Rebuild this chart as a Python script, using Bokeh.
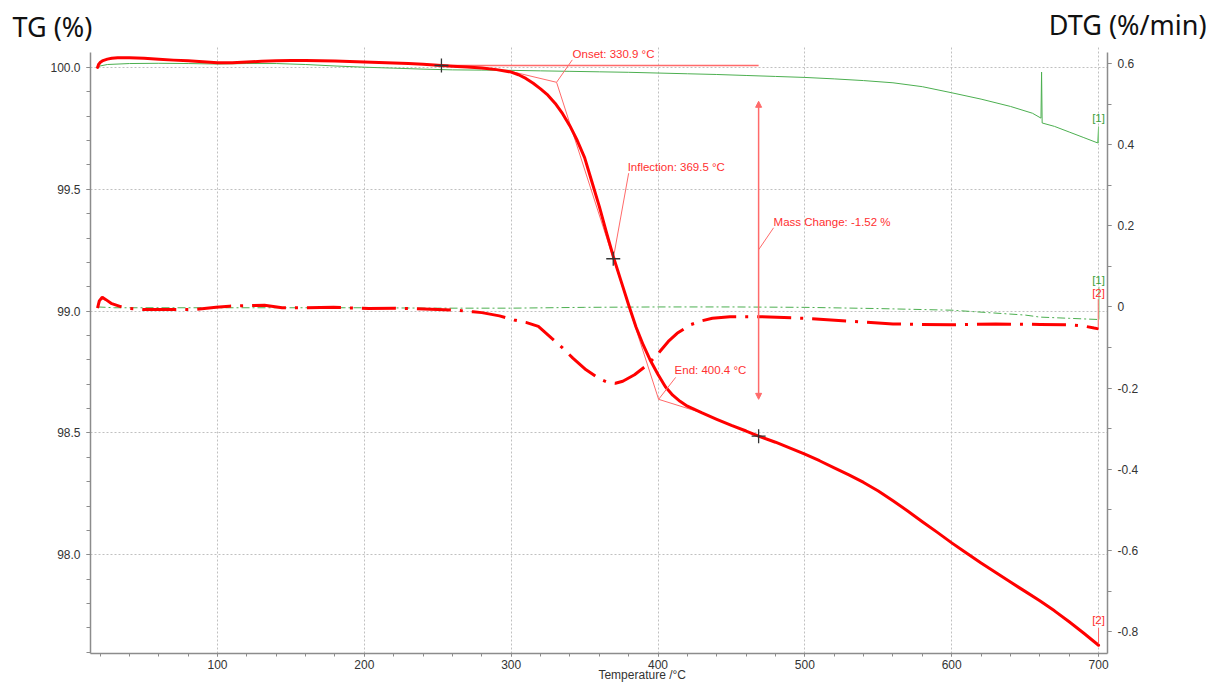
from bokeh.plotting import figure
from bokeh.layouts import column
from bokeh.models import (Range1d, LinearAxis, SingleIntervalTicker, CustomJSTickFormatter,
                          Label, Arrow, NormalHead)
from bokeh.core.properties import value
from bokeh.embed import file_html
from bokeh.resources import INLINE

# ---------------- data ----------------
# TG of sample [2] (red, %)
tg2_T = [18.3, 19, 20, 22, 25, 28, 32,
         40, 50, 60, 70, 80, 90, 100, 110, 120, 130, 140, 150, 160, 170, 180, 190, 200, 210, 220, 230, 240,
         252.5, 260, 270, 280, 290, 300,
         305, 310, 315, 320, 325, 330, 335, 340, 345, 350, 355, 360, 365, 370, 375, 380, 385, 390, 395, 400,
         405, 410, 415, 420, 430, 440, 450, 460, 468.5, 480, 490,
         500, 510, 520, 530, 540, 550, 560, 570, 580, 590, 600, 610, 620, 630, 640, 650, 660, 670, 680, 690, 700]
tg2 = [100.000, 100.012, 100.020, 100.028, 100.034, 100.038, 100.040,
       100.040, 100.038, 100.034, 100.030, 100.027, 100.023, 100.019, 100.019, 100.022, 100.025, 100.027,
       100.028, 100.028, 100.027, 100.026, 100.024, 100.022, 100.020, 100.018, 100.016, 100.013,
       100.008, 100.005, 100.002, 99.998, 99.991, 99.981,
       99.970, 99.955, 99.935, 99.912, 99.886, 99.852, 99.810, 99.760, 99.700, 99.630, 99.530, 99.430,
       99.320, 99.215, 99.120, 99.025, 98.935, 98.860, 98.795, 98.740,
       98.690, 98.655, 98.630, 98.610, 98.582, 98.556, 98.531, 98.508, 98.487, 98.462, 98.438,
       98.413, 98.386, 98.357, 98.328, 98.297, 98.262, 98.222, 98.180, 98.136, 98.093, 98.049, 98.007,
       97.966, 97.927, 97.888, 97.850, 97.811, 97.770, 97.725, 97.678, 97.629]

# TG of sample [1] (green, %)
tg1_T = [18.3, 20, 25, 40, 60, 80, 100, 120, 140, 160, 180, 200, 220, 240, 260, 280, 300, 320, 340, 360,
         380, 400, 420, 440, 460, 480, 500, 520, 540, 560, 580, 600, 620, 640, 655, 660.8, 661.2, 661.6,
         670, 680, 690, 699.5, 700]
tg1 = [100.000, 100.006, 100.012, 100.016, 100.017, 100.016, 100.014, 100.016, 100.016, 100.012, 100.006,
       100.001, 99.997, 99.993, 99.990, 99.989, 99.988, 99.986, 99.984, 99.982, 99.980, 99.977, 99.974,
       99.971, 99.967, 99.963, 99.959, 99.953, 99.946, 99.937, 99.921, 99.896, 99.870, 99.840, 99.812,
       99.792, 99.981, 99.772, 99.758, 99.735, 99.712, 99.690, 99.755]

# DTG of sample [2] (red, %/min)
dtg2_T = [18.3, 19.5, 21.5, 24, 28, 33, 37, 49, 70, 85, 99, 108, 117, 132, 144, 156, 179, 203, 221, 250,
          265, 274, 280, 292, 302, 310, 318.5, 327.5, 335, 342, 351, 360, 366, 371, 376, 384, 393, 400,
          407, 413, 422, 430, 437, 449, 470, 500, 530, 560, 600, 630, 660, 680, 690, 697, 700]
dtg2 = [-0.003, 0.015, 0.024, 0.018, 0.008, 0.002, -0.003, -0.006, -0.006, -0.006, -0.001, 0.002, 0.003,
        0.004, -0.002, -0.002, -0.001, -0.004, -0.003, -0.006, -0.009, -0.012, -0.014, -0.022, -0.032,
        -0.038, -0.048, -0.077, -0.101, -0.126, -0.155, -0.177, -0.186, -0.188, -0.183, -0.167, -0.142,
        -0.115, -0.085, -0.065, -0.044, -0.034, -0.028, -0.024, -0.024, -0.028, -0.035, -0.042, -0.044,
        -0.042, -0.043, -0.044, -0.047, -0.052, -0.054]

# DTG of sample [1] (green, %/min)
dtg1_T = [18.3, 30, 100, 200, 250, 300, 350, 400, 450, 500, 550, 600, 650, 660, 680, 700]
dtg1 = [0.000, -0.002, -0.002, -0.002, -0.003, -0.003, -0.001, 0.000, 0.000, -0.001, -0.004, -0.008,
        -0.020, -0.025, -0.028, -0.031]

# evaluation results
onset_T, onset_tg = 330.9, 99.939
infl_T, infl_tg = 369.5, 99.215
end_T, end_tg = 400.4, 98.638
step_start_T, step_start_tg = 252.5, 100.008
step_end_T, step_end_tg = 468.5, 98.487
mass_change = -1.52
cross_T = [step_start_T, infl_T, step_end_T]
cross_tg = [step_start_tg, infl_tg, step_end_tg]

titles = ["TG (%)", "DTG (%/min)"]
x_label = "Temperature /\u00b0C"

assert len(tg2_T) == len(tg2) and len(tg1_T) == len(tg1)
assert len(dtg2_T) == len(dtg2) and len(dtg1_T) == len(dtg1)

RED = "#ff0000"
ARED = "#ff3030"
LRED = "#ff6a6a"
GREEN = "#4caf50"
GTXT = "#3c9e3c"
TXT = "#333333"
AX = "#8c8c8c"
FONT = "Liberation Sans"
W = 1215

# ---------------- header strip with the two axis titles ----------------
top = figure(width=W, height=46, output_backend="svg", toolbar_location=None,
             x_range=Range1d(0, W), y_range=Range1d(0, 46),
             x_axis_location=None, y_axis_location=None, min_border=0, title=None)
if "frame_align" in top.properties():
    top.frame_align = False
top.outline_line_color = None
top.grid.visible = False
top.text(x=[12], y=[20], text=[titles[0]], text_font=value("Noto Sans"), text_font_size="27px",
         text_color="#111111", text_baseline="middle", text_align="left")
top.text(x=[1206], y=[22], text=[titles[1]], text_font=value("Noto Sans"), text_font_size="27px",
         text_color="#111111", text_baseline="middle", text_align="right")

# ---------------- main plot ----------------
p = figure(width=W, height=638, output_backend="svg", toolbar_location=None,
           x_range=Range1d(13.5, 706.1), y_range=Range1d(97.595, 100.0859),
           min_border_left=90, min_border_right=108, min_border_top=0, min_border_bottom=29)
if "frame_align" in p.properties():
    p.frame_align = False
p.outline_line_color = None
p.extra_y_ranges = {"dtg": Range1d(-0.854, 0.6418)}

xax = p.xaxis[0]
xax.ticker = SingleIntervalTicker(interval=100, num_minor_ticks=5)
# the original label starts at the middle of the axis: pad it so its text begins there
xax.axis_label = "\u2003" * 7 + "\u2009" + x_label
xax.axis_label_text_font = FONT
xax.axis_label_text_font_size = "12px"
xax.axis_label_text_font_style = "normal"
xax.axis_label_text_color = TXT
xax.axis_label_standoff = -4

yax = p.yaxis[0]
yax.ticker = SingleIntervalTicker(interval=0.5, num_minor_ticks=5)
yax.formatter = CustomJSTickFormatter(code="return tick.toFixed(1);")
yax.bounds = (97.595, 100.0613)

rax = LinearAxis(y_range_name="dtg")
rax.ticker = SingleIntervalTicker(interval=0.2, num_minor_ticks=2)
rax.formatter = CustomJSTickFormatter(
    code="const v = Math.abs(tick) < 1e-9 ? 0 : tick; return v === 0 ? '0' : v.toFixed(1);")
rax.bounds = (-0.854, 0.627)
p.add_layout(rax, "right")

for ax in [xax, yax, rax]:
    ax.axis_line_color = AX
    ax.axis_line_width = 1.5
    ax.major_tick_line_color = AX
    ax.minor_tick_line_color = AX
    ax.major_tick_in = 0
    ax.major_tick_out = 4
    ax.minor_tick_in = 0
    ax.minor_tick_out = 4
    ax.major_label_text_font = FONT
    ax.major_label_text_font_size = "12px"
    ax.major_label_text_color = TXT
xax.major_tick_out = 3
xax.minor_tick_out = 3
xax.major_label_standoff = 3
yax.major_label_standoff = 6
rax.major_label_standoff = 6

p.xgrid.ticker = xax.ticker
for g in (p.xgrid[0], p.ygrid[0]):
    g.grid_line_color = "#c0c0c0"
    g.grid_line_dash = "2 2"
    g.grid_line_width = 1

# curves
p.line(tg1_T, tg1, line_color=GREEN, line_width=1)
p.line(dtg1_T, dtg1, y_range_name="dtg", line_color=GREEN, line_width=1, line_dash="8 3 2 3")
p.line(dtg2_T, dtg2, y_range_name="dtg", line_color=RED, line_width=3, line_dash="34 9 3 9")

# evaluation construction lines
p.line([step_start_T, step_end_T], [step_start_tg, step_start_tg], line_color=LRED, line_width=1.5)
p.line([299.6, onset_T], [99.984, onset_tg], line_color=LRED, line_width=1)
p.line([onset_T, end_T], [onset_tg, end_tg], line_color=LRED, line_width=1)
p.line([end_T, 428.0], [end_tg, 98.586], line_color=LRED, line_width=1)

p.line(tg2_T, tg2, line_color=RED, line_width=3, line_cap="round", line_join="round")

# leaders
p.line([onset_T, 341.6], [onset_tg, 100.031], line_color=LRED, line_width=1)
p.line([infl_T, 380.0], [infl_tg, 99.566], line_color=LRED, line_width=1)
p.line([step_end_T, 478.7], [99.252, 99.342], line_color=LRED, line_width=1)
p.line([end_T, 412.0], [end_tg, 98.728], line_color=LRED, line_width=1)

p.add_layout(Arrow(start=NormalHead(size=6, fill_color=LRED, line_color=LRED),
                   end=NormalHead(size=6, fill_color=LRED, line_color=LRED),
                   x_start=step_end_T, y_start=98.638, x_end=step_end_T, y_end=99.861,
                   line_color=LRED, line_width=1.5))

p.scatter(cross_T, cross_tg, marker="cross", size=14, line_color="#333333", line_width=1.3)


def lab(x, y, text, color=ARED, size="11.5px", align="left", baseline="middle", yr="default"):
    p.add_layout(Label(x=x, y=y, text=text, text_color=color, text_font=FONT, text_font_size=size,
                       text_align=align, text_baseline=baseline, y_range_name=yr))


lab(341.8, 100.057, "Onset: %.1f \u00b0C" % onset_T)
lab(379.3, 99.591, "Inflection: %.1f \u00b0C" % infl_T)
lab(478.7, 99.366, "Mass Change: %.2f %%" % mass_change)
lab(411.3, 98.757, "End: %.1f \u00b0C" % end_T)

# series tags
p.line([700, 700], [99.758, 99.690], line_color="#7fc97f", line_width=1)
lab(700, 99.791, "[1]", color=GTXT, align="center")
p.line([700, 700], [97.700, 97.636], line_color=LRED, line_width=1)
lab(700, 97.731, "[2]", align="center")
p.line([700.3, 700.3], [0.050, -0.031], y_range_name="dtg", line_color="#7fc97f", line_width=1)
lab(700, 0.0663, "[1]", color=GTXT, align="center", yr="dtg")
p.line([699.8, 699.8], [0.019, -0.052], y_range_name="dtg", line_color=LRED, line_width=1)
lab(700, 0.0344, "[2]", align="center", yr="dtg")

layout = column(top, p, spacing=0)
open("out.html", "w").write(file_html(layout, INLINE))
